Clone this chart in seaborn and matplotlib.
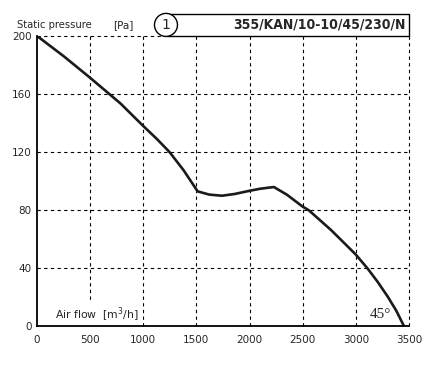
import matplotlib
matplotlib.use("Agg")
import matplotlib.pyplot as plt
import matplotlib.patches as mpatches
import seaborn as sns
import pandas as pd

# Fan curve
air_flow = [0, 252, 503, 786, 1000, 1129, 1248, 1380, 1512, 1620, 1740, 1860, 2000, 2100,
            2229, 2352, 2500, 2558, 2764, 2900, 3000, 3110, 3205, 3300, 3380, 3455]
pressure = [200, 186, 171, 153.5, 138, 129, 120, 107.5, 93, 90.8, 90, 91.2, 93.4, 94.8,
            96, 90.7, 82.5, 80, 66.6, 56.8, 49.5, 40, 30.8, 20.6, 11, 0]
x_ticks = [0, 500, 1000, 1500, 2000, 2500, 3000, 3500]
y_ticks = [0, 40, 80, 120, 160, 200]
model = "355/KAN/10-10/45/230/N"

sns.set_style("white")
plt.rcParams['font.family'] = ['DejaVu Sans']

df = pd.DataFrame({"flow": air_flow, "pressure": pressure})

fig = plt.figure(figsize=(4.3, 3.73), dpi=100)
ax = fig.add_axes([0.086, 0.1247, 0.865, 0.779])

# dashed grid
dash = (0, (3, 3))
for xv in x_ticks[1:]:
    ax.axvline(xv, color="black", lw=0.8, ls=dash, zorder=1, clip_on=False)
for yv in y_ticks[1:-1]:
    ax.axhline(yv, color="black", lw=0.8, ls=dash, zorder=1)
ax.plot([0, 1230], [200, 200], color="black", lw=0.8, ls=dash, zorder=1, clip_on=False)

sns.lineplot(data=df, x="flow", y="pressure", sort=False, estimator=None,
             color="#1a1a1a", lw=1.9, ax=ax, zorder=3)

ax.set_xlim(0, 3500)
ax.set_ylim(0, 200)
ax.set_xticks(x_ticks)
ax.set_yticks(y_ticks)
ax.tick_params(length=0, labelsize=7.5, pad=6)
ax.tick_params(axis="y", pad=4)
ax.set_xlabel("")
ax.set_ylabel("")
for s in ["top", "right"]:
    ax.spines[s].set_visible(False)
for s in ["left", "bottom"]:
    ax.spines[s].set_linewidth(1.3)
    ax.spines[s].set_color("black")
    ax.spines[s].set_zorder(6)

# title box
top = 1.0757
ax.plot([0.35, 1.0, 1.0], [top, top, 1.0], transform=ax.transAxes,
        color="black", lw=1.0, clip_on=False, zorder=4)
ax.plot([0.35, 1.0], [1.0, 1.0], transform=ax.transAxes,
        color="black", lw=1.0, clip_on=False, zorder=4)
circ = mpatches.Ellipse((0.3468, 1.0379), 23 / 372, 23 / 290.5, transform=ax.transAxes,
                        fc="white", ec="black", lw=1.0, clip_on=False, zorder=5)
ax.add_patch(circ)
ax.text(0.3468, 1.0379, "1", transform=ax.transAxes, ha="center", va="center",
        fontsize=10, zorder=6)
ax.text(0.99, 1.0379, model, transform=ax.transAxes, ha="right", va="center",
        fontsize=10, fontweight="bold", fontstretch="condensed")
ax.text(-0.054, 1.0379, "Static pressure", transform=ax.transAxes, ha="left",
        va="center", fontsize=7.2)
ax.text(0.204, 1.0379, "[Pa]", transform=ax.transAxes, ha="left", va="center", fontsize=7.5)

ax.text(0.048, 0.04, "Air flow  [m$^3$/h]", transform=ax.transAxes, ha="left",
        va="center", fontsize=7.8, zorder=2,
        bbox=dict(fc="white", ec="none", pad=3))
ax.text(0.895, 0.04, "45°", transform=ax.transAxes, ha="left", va="center",
        fontsize=11, family=["Liberation Serif", "DejaVu Serif"], zorder=4)

fig.savefig("out.png", dpi=100)
